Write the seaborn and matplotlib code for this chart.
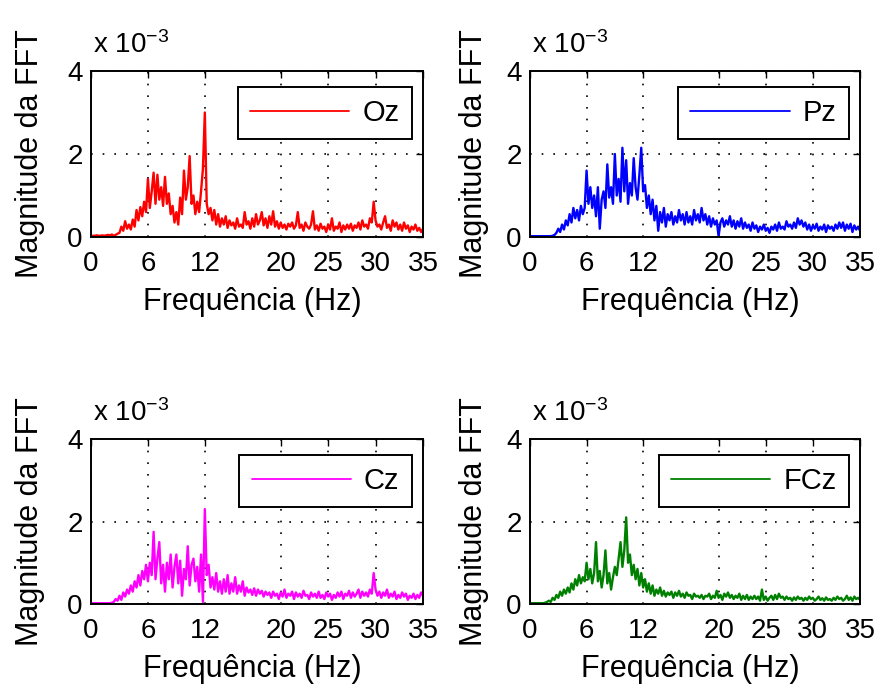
import numpy as np
import pandas as pd
import matplotlib
matplotlib.use("Agg")
import matplotlib.pyplot as plt
import seaborn as sns

# ---------------- data (magnitudes in units of 1e-3) ----------------
freq_hz = [round(0.2 * i, 1) for i in range(176)]  # 0.0 .. 35.0 Hz

oz = [0.02,0.03,0.03,0.04,0.03, 0.03,0.04,0.03,0.04,0.05, 0.04,0.06,0.03,0.05,0.08,
      0.10,0.25,0.15,0.38,0.20, 0.30,0.18,0.42,0.25,0.65, 0.40,0.72,0.50,0.85,0.60,
      1.40,0.70,1.10,1.55,0.80, 1.50,0.90,1.20,0.75,1.45, 0.80,1.05,0.55,0.75,0.35,
      0.60,0.30,0.95,0.55,1.60, 0.90,1.20,1.95,0.80,1.00, 0.55,0.85,0.60,1.10,1.65,
      3.00,0.80,0.55,0.70,0.40, 0.65,0.30,0.55,0.25,0.45, 0.30,0.50,0.22,0.40,0.28,
      0.35,0.20,0.45,0.25,0.30, 0.22,0.60,0.30,0.38,0.20, 0.45,0.25,0.55,0.30,0.40,
      0.60,0.28,0.45,0.22,0.50, 0.30,0.62,0.25,0.38,0.20, 0.35,0.22,0.30,0.18,0.32,
      0.25,0.35,0.20,0.28,0.60, 0.22,0.30,0.15,0.35,0.25, 0.20,0.30,0.62,0.18,0.28,
      0.15,0.32,0.20,0.25,0.12, 0.30,0.18,0.45,0.15,0.25, 0.20,0.35,0.12,0.28,0.18,
      0.30,0.20,0.32,0.15,0.28, 0.22,0.35,0.18,0.40,0.25, 0.30,0.20,0.45,0.35,0.85,
      0.40,0.25,0.30,0.18,0.35, 0.50,0.22,0.30,0.15,0.40, 0.25,0.35,0.18,0.30,0.15,
      0.35,0.20,0.28,0.12,0.25, 0.18,0.30,0.15,0.22,0.12, 0.20]

pz = [0.02,0.02,0.02,0.02,0.02, 0.02,0.02,0.02,0.02,0.02, 0.02,0.02,0.03,0.05,0.10,
      0.20,0.12,0.30,0.18,0.40, 0.28,0.55,0.35,0.70,0.45, 0.65,0.40,0.75,0.55,0.70,
      1.60,0.80,1.20,0.70,1.00, 0.50,1.20,0.20,0.90,1.10, 0.70,1.75,0.95,1.20,0.80,
      2.00,1.00,1.40,0.85,2.15, 1.10,1.85,0.80,1.30,1.00, 1.90,1.20,0.90,1.50,2.15,
      1.10,1.25,0.70,1.00,0.55, 0.90,0.40,0.75,0.15,0.60, 0.35,0.70,0.25,0.55,0.40,
      0.60,0.30,0.50,0.35,0.65, 0.40,0.55,0.30,0.60,0.35, 0.50,0.30,0.65,0.40,0.55,
      0.35,0.70,0.40,0.55,0.30, 0.50,0.25,0.45,0.30,0.40, 0.02,0.35,0.45,0.25,0.40,
      0.30,0.50,0.25,0.40,0.20, 0.38,0.25,0.45,0.20,0.35, 0.22,0.30,0.15,0.35,0.20,
      0.28,0.12,0.25,0.18,0.30, 0.15,0.22,0.10,0.25,0.18, 0.30,0.15,0.35,0.20,0.25,
      0.18,0.38,0.25,0.30,0.20, 0.35,0.22,0.45,0.30,0.40, 0.25,0.35,0.18,0.30,0.15,
      0.28,0.20,0.32,0.15,0.25, 0.18,0.30,0.12,0.28,0.20, 0.25,0.15,0.30,0.20,0.35,
      0.22,0.35,0.15,0.30,0.20, 0.32,0.12,0.28,0.18,0.25, 0.15]

cz = [0.02,0.02,0.02,0.02,0.02, 0.02,0.02,0.02,0.02,0.02, 0.02,0.03,0.05,0.12,0.08,
      0.20,0.10,0.28,0.18,0.35, 0.25,0.45,0.30,0.55,0.40, 0.70,0.45,0.80,0.60,0.95,
      0.55,1.00,0.70,1.75,0.60, 1.10,1.50,0.50,0.95,0.30, 1.00,0.60,1.20,0.40,0.90,
      1.20,0.50,1.05,0.20,0.85, 0.60,1.40,0.45,0.95,1.10, 0.55,0.90,0.30,1.20,0.05,
      2.30,0.70,0.95,0.40,0.65, 0.35,0.75,0.30,0.55,0.25, 0.60,0.30,0.70,0.25,0.50,
      0.30,0.65,0.25,0.45,0.30, 0.55,0.20,0.40,0.28,0.35, 0.22,0.38,0.20,0.35,0.25,
      0.32,0.18,0.30,0.22,0.28, 0.15,0.30,0.20,0.25,0.12, 0.28,0.18,0.35,0.15,0.25,
      0.20,0.30,0.12,0.28,0.18, 0.25,0.15,0.32,0.20,0.22, 0.12,0.28,0.18,0.25,0.15,
      0.30,0.15,0.22,0.12,0.28, 0.18,0.25,0.10,0.22,0.15, 0.28,0.18,0.30,0.12,0.25,
      0.20,0.32,0.15,0.28,0.18, 0.25,0.35,0.15,0.30,0.20, 0.28,0.18,0.35,0.25,0.75,
      0.35,0.20,0.30,0.15,0.28, 0.20,0.35,0.15,0.25,0.18, 0.30,0.12,0.22,0.15,0.28,
      0.18,0.25,0.10,0.20,0.15, 0.25,0.12,0.22,0.15,0.28, 0.20]

fcz = [0.02,0.02,0.02,0.02,0.02, 0.02,0.02,0.02,0.03,0.05, 0.08,0.05,0.15,0.10,0.22,
       0.15,0.30,0.20,0.35,0.25, 0.40,0.28,0.50,0.35,0.60, 0.45,0.70,0.50,0.65,0.55,
       1.00,0.60,0.85,0.50,0.75, 1.50,0.55,0.80,0.40,0.70, 1.30,0.50,0.75,0.35,0.65,
       0.90,0.70,1.10,1.50,0.90, 1.30,2.10,1.00,1.20,0.70, 0.95,0.60,0.85,0.45,0.75,
       0.40,0.60,0.30,0.50,0.25, 0.45,0.20,0.35,0.25,0.40, 0.20,0.32,0.18,0.28,0.22,
       0.30,0.15,0.28,0.20,0.32, 0.18,0.25,0.15,0.28,0.20, 0.22,0.12,0.25,0.18,0.20,
       0.15,0.22,0.12,0.20,0.18, 0.25,0.12,0.20,0.15,0.32, 0.15,0.22,0.10,0.25,0.18,
       0.28,0.15,0.22,0.12,0.20, 0.15,0.25,0.10,0.20,0.12, 0.22,0.10,0.18,0.12,0.20,
       0.12,0.18,0.08,0.35,0.10, 0.18,0.08,0.15,0.20,0.10, 0.22,0.12,0.25,0.15,0.18,
       0.10,0.18,0.12,0.15,0.08, 0.16,0.10,0.18,0.12,0.15, 0.08,0.15,0.10,0.18,0.12,
       0.15,0.08,0.12,0.18,0.10, 0.14,0.08,0.16,0.10,0.12, 0.08,0.15,0.10,0.18,0.12,
       0.15,0.08,0.12,0.20,0.10, 0.16,0.08,0.18,0.12,0.15, 0.10]

channels = ["Oz", "Pz", "Cz", "FCz"]
series = [oz, pz, cz, fcz]
colors = ["#ff0000", "#0000ff", "#ff00ff", "#008000"]
x_ticks = [0, 6, 12, 20, 25, 30, 35]
y_ticks = [0, 2, 4]
x_label = "Frequência (Hz)"
y_label = "Magnitude da FFT"

# ---------------- style ----------------
sns.set_style("white")
plt.rcParams["font.family"] = ["Liberation Sans", "DejaVu Sans"]
plt.rcParams["mathtext.fontset"] = "custom"
plt.rcParams["mathtext.rm"] = "Liberation Sans"
plt.rcParams["mathtext.it"] = "Liberation Sans"
plt.rcParams["text.color"] = "black"
plt.rcParams["axes.labelcolor"] = "black"
plt.rcParams["legend.labelcolor"] = "black"

fig = plt.figure(figsize=(8.76, 6.88), dpi=100)
fig.patch.set_facecolor("white")

W, H = 876.0, 688.0
boxes = [(91, 423, 71, 237), (530, 860, 71, 237),
         (91, 423, 439, 604), (530, 860, 439, 604)]
ylab_x = [45, 489, 45, 489]

for k, (name, vals, col) in enumerate(zip(channels, series, colors)):
    l, r, t, b = boxes[k]
    ax = fig.add_axes([l / W, 1 - b / H, (r - l) / W, (b - t) / H])
    df = pd.DataFrame({"f": freq_hz, "mag": np.array(vals) * 1e-3})
    sns.lineplot(data=df, x="f", y="mag", ax=ax, color=col, linewidth=1.7,
                 label=name, estimator=None)
    ax.set_xlim(0, 35)
    ax.set_ylim(0, 0.004)
    ax.set_xticks(x_ticks)
    ax.set_xticklabels([str(v) for v in x_ticks])
    ax.set_yticks([v * 1e-3 for v in y_ticks])
    ax.set_yticklabels([str(v) for v in y_ticks])
    ax.grid(True, color="black", linestyle=(0, (1, 6)), linewidth=1.2)
    ax.tick_params(axis="both", direction="in", length=5, width=1,
                   top=True, right=True, labelsize=20, colors="black")
    ax.tick_params(axis="x", pad=10)
    ax.tick_params(axis="y", pad=6)
    for s in ax.spines.values():
        s.set_visible(True)
        s.set_color("black")
        s.set_linewidth(1.4)
    ax.set_xlabel(x_label, fontsize=22, color="black")
    ax.set_ylabel(y_label, fontsize=22, color="black")
    ax.xaxis.set_label_coords(0.485, -0.30)
    ax.yaxis.set_label_coords((ylab_x[k] - l) / (r - l), 0.5)
    ax.text(0.005, 1.0 + 18 / (b - t), r"x 10$^{-3}$", transform=ax.transAxes,
            fontsize=20, ha="left", va="baseline", color="black")
    leg = ax.legend(loc="upper right", bbox_to_anchor=(0.966, 0.904),
                    borderaxespad=0, fontsize=21, handlelength=3.4,
                    handletextpad=0.45, borderpad=0.42, fancybox=False,
                    framealpha=1, edgecolor="black")
    leg.get_frame().set_linewidth(1.4)
    for ln in leg.get_lines():
        ln.set_linewidth(1.3)

fig.savefig("out.png", dpi=100, facecolor="white")
